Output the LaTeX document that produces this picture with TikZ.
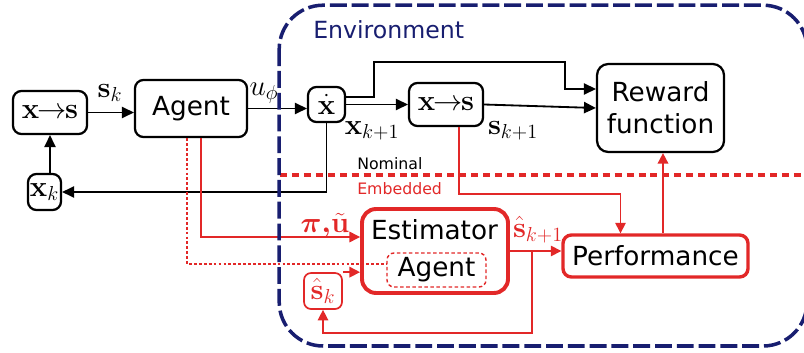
\documentclass[tikz,border=0pt]{standalone}
\usepackage[no-math]{fontspec}
\setmainfont{DejaVu Sans}
\usepackage{amsmath,bm}
\DeclareMathSizes{20.74}{20.74}{14.4}{12}
\definecolor{envblue}{RGB}{24,30,112}
\definecolor{embred}{RGB}{226,40,40}
\usetikzlibrary{arrows.meta,positioning,calc}

\newcommand{\blocktxt}{\fontsize{18.7}{22.8}\selectfont}
\newcommand{\mathsz}{\fontsize{20.74}{24}\selectfont}

\tikzset{
  blk/.style={draw, line width=1.6pt, rounded corners=6pt, align=center, inner sep=0pt},
  redblk/.style={blk, draw=embred},
  mathlbl/.style={font=\mathsz},
  arr/.style={-{Triangle[length=8.5pt,width=8pt]}, line width=1.3pt},
  redarr/.style={embred, -{Triangle[length=7.5pt,width=7.5pt]}, line width=1pt},
  reddot/.style={embred, line width=1pt, dash pattern=on 2pt off 1.5pt},
}

\begin{document}
\begin{tikzpicture}[font=\blocktxt]
  \useasboundingbox (0,0) rectangle (20.1,8.8);

  % Agent side
  \node[blk, mathlbl, minimum width=1.85cm, minimum height=1.075cm] (xs) at (1.25,5.9875) {$\mathbf{x}\!\!\rightarrow\!\!\mathbf{s}$};
  \node[blk, mathlbl, minimum width=0.825cm, minimum height=0.9cm] (xk) at (1.1125,4.0) {$\mathbf{x}_k$};
  \node[blk, minimum width=2.8cm, minimum height=1.425cm] (agent) at (4.775,6.0875) {Agent};

  % Nominal environment
  \node[blk, mathlbl, minimum width=0.925cm, minimum height=0.875cm] (xdot) at (8.1625,6.1875) {$\dot{\mathbf{x}}$};
  \node[blk, mathlbl, minimum width=1.85cm, minimum height=1.075cm] (xs2) at (11.15,6.1875) {$\mathbf{x}\!\!\rightarrow\!\!\mathbf{s}$};
  \node[blk, rounded corners=8pt, minimum width=3.175cm, minimum height=2.2cm] (reward) at (16.5125,6.1) {Reward\\function};

  % Embedded part
  \node[redblk, line width=2.8pt, rounded corners=10pt, minimum width=3.65cm, minimum height=2.1cm] (est) at (10.875,2.525) {};
  \node (estlbl) at (10.8625,3.05) {Estimator};
  \node[draw=embred, line width=1pt, dash pattern=on 2.5pt off 1.8pt, rounded corners=5pt,
        minimum width=2.475cm, minimum height=0.85cm, inner sep=0pt] (inagent) at (10.9125,2.05) {Agent};
  \node[redblk, line width=2.4pt, minimum width=4.625cm, minimum height=1.05cm] (perf) at (16.3875,2.4) {Performance};
  \node[redblk, mathlbl, text=embred, line width=1.2pt, rounded corners=5pt, minimum width=0.95cm, minimum height=0.9cm] (shk) at (8.075,1.525) {$\hat{\mathbf{s}}_k$};

  % Signal labels
  \node[mathlbl] (sk) at (2.75,6.475) {$\mathbf{s}_k$};
  \node[mathlbl] (uphi) at (6.6,6.475) {$u_\phi$};
  \node[mathlbl] (xk1) at (9.3,5.525) {$\mathbf{x}_{k+1}$};
  \node[mathlbl] (sk1) at (12.825,5.525) {$\mathbf{s}_{k+1}$};
  \node[mathlbl, text=embred] (piu) at (8.125,3.15) {$\bm{\pi}{\bm{,}}\tilde{\mathbf{u}}$};
  \node[mathlbl, text=embred] (shk1) at (13.45,3.05) {$\hat{\mathbf{s}}_{k+1}$};

  % Nominal / embedded split
  \draw[embred, line width=2.4pt, dash pattern=on 5pt off 3.5pt] (7.0,4.425) -- (20.1,4.425);
  \node[font=\fontsize{11.2}{13}\selectfont, anchor=west, inner sep=0pt] (nom) at (8.925,4.7) {Nominal};
  \node[font=\fontsize{11.2}{13}\selectfont, text=embred, anchor=west, inner sep=0pt] (emb) at (8.925,4.075) {Embedded};

  % Black connectors
  \draw[arr] (xs.east) -- (xs.east -| agent.west);
  \draw[arr] (xs |- xk.north) -- (xs.south);
  \draw[arr] (agent.east) -- (agent.east -| xdot.west);
  \draw[arr] (xdot.east) -- (xs2.west);
  \draw[arr] ([yshift=0.1875cm]xdot.east) -- ++(0.7,0) |- (14.125,7.25) |- ([yshift=0.475cm]reward.west);
  \draw[arr] (xs2.east) -- (reward.west);
  \draw[arr] (xdot.south) |- (xk.east);

  % Red connectors
  \coordinate (turn) at (15.5125,3.95);
  \draw[redarr] ([xshift=0.325cm]xs2.south) |- (turn) -- (turn |- perf.north);
  \draw[redarr, line width=1.3pt] ([xshift=0.1875cm]perf.north) -- ([xshift=0.1875cm]perf.north |- reward.south);
  \draw[redarr] ([xshift=0.25cm]agent.south) |- ([yshift=0.35cm]est.west);
  \draw[reddot] ([xshift=-0.1cm]agent.south) |- ([yshift=0.15cm]inagent.west);
  \draw[redarr] (shk.north east) -- (shk.north east -| est.west);
  \draw[redarr] (est.east) -- (est.east -| perf.west);
  \coordinate (split) at ($(est.east)!0.43!(est.east -| perf.west)$);
  \draw[redarr] (split) -- ++(0,-2.05) -| (shk.south);

  % Environment
  \draw[envblue, line width=2.5pt, dash pattern=on 12pt off 3.5pt, rounded corners=1.1cm] (6.98,8.67) rectangle (20.175,0.15);
  \node[text=envblue, font=\fontsize{16.8}{20}\selectfont, anchor=west, inner sep=0pt] (envlbl) at (7.825,8.05) {Environment};
\end{tikzpicture}
\end{document}
